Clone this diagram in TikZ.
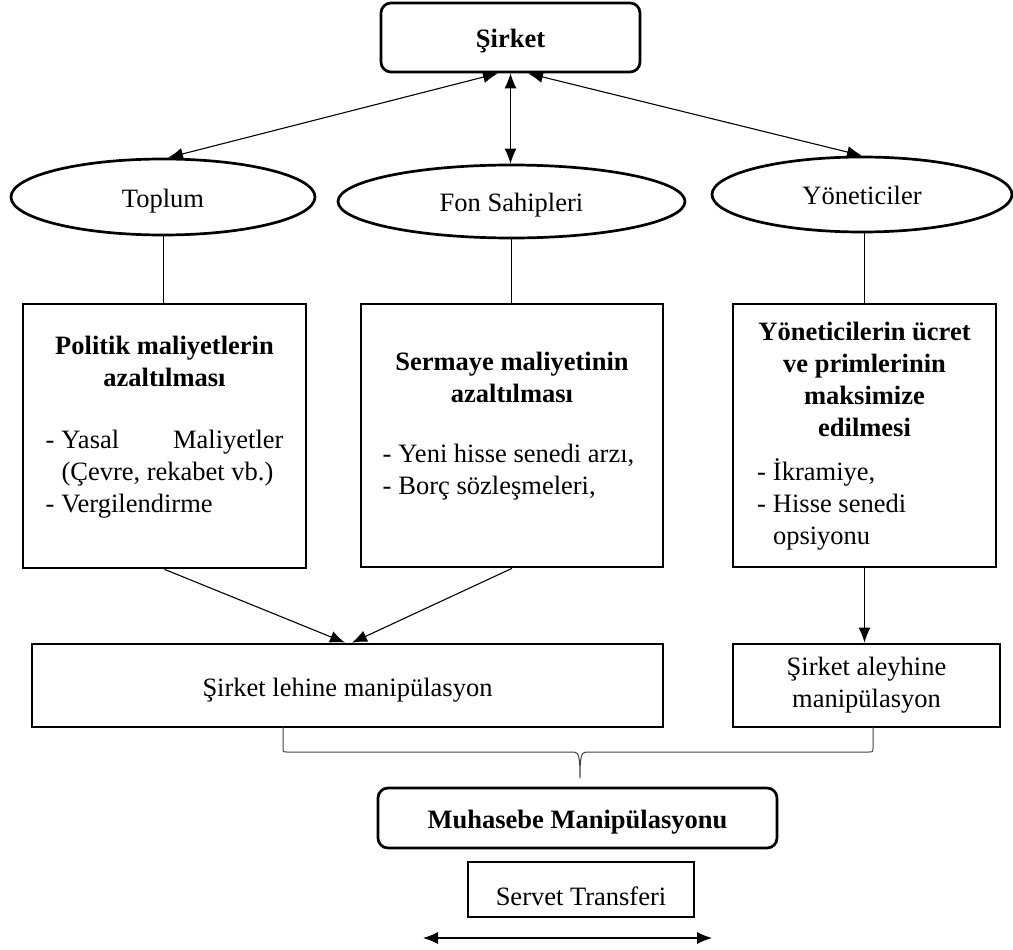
\documentclass[tikz,border=0pt]{standalone}
\usepackage{fontspec}
\setmainfont{Liberation Serif}
\usetikzlibrary{shapes.geometric,arrows.meta}

\tikzset{
    >={Latex[length=15pt,width=12pt]},
    schrift/.style={font=\fontsize{26.5}{32}\selectfont},
    tief/.style={text height=#1, text depth=0pt},
    kasten/.style={draw, rectangle, line width=2.7pt, inner sep=0pt, schrift},
    rundkasten/.style={kasten, rounded corners=10pt},
    oval/.style={draw, ellipse, line width=2.7pt, inner sep=0pt, schrift, tief=20pt},
    inhalt/.style={inner sep=0pt, align=center, anchor=north, schrift},
    pfeil/.style={line width=1.1pt},
    linie/.style={line width=0.9pt},
    klammer/.style={line width=1pt, black!75}
}

\newcommand{\madde}[2]{\makebox[#1][l]{\makebox[16pt][l]{-}#2}}
\newcommand{\devam}[2]{\makebox[#1][l]{\hspace*{16pt}#2}}

\begin{document}
\begin{tikzpicture}[x=1pt, y=-1pt]
        \useasboundingbox (0,0) rectangle (1013,950);
        % Sirket
        \node[rundkasten, tief=21pt, minimum width=259pt, minimum height=69pt] (sirket) at (510.5,37.5) {\textbf{Şirket}};
        % Gruppen
        \node[oval, minimum width=304pt, minimum height=76pt] (toplum) at (163,197) {Toplum};
        \node[oval, minimum width=347pt, minimum height=73pt] (fon) at (511.5,201.5) {Fon Sahipleri};
        \node[oval, minimum width=300pt, minimum height=75pt] (yonetici) at (862,194.5) {Yöneticiler};
        \draw[pfeil, <->] ([xshift=-12.5pt]sirket.south) -- ([xshift=5pt]toplum.north);
        \draw[pfeil, <->] (sirket.south) -- (sirket.south |- fon.north);
        \draw[pfeil, <->] ([xshift=17.5pt]sirket.south) -- (yonetici.north);
        % Ziele
        \node[kasten, minimum width=283pt, minimum height=264pt] (politik) at (164.5,436) {};
        \node[kasten, minimum width=302pt, minimum height=263pt] (sermaye) at (512,435.5) {};
        \node[kasten, minimum width=263pt, minimum height=263pt] (ucret) at (864.5,435.5) {};
        \draw[linie] (toplum.south) -- (toplum.south |- politik.north);
        \draw[linie] (fon.south) -- (fon.south |- sermaye.north);
        \draw[linie] ([xshift=2pt]yonetici.south) -- ([xshift=2pt]yonetici.south |- ucret.north);
        \node[inhalt] (politik-text) at (164.5,331.6) {\strut\textbf{Politik maliyetlerin}\\\textbf{azaltılması}\\[30pt]%
            \madde{238pt}{\makebox[222pt][s]{Yasal Maliyetler}}\\\devam{238pt}{(Çevre, rekabet vb.)}\\\madde{238pt}{Vergilendirme}};
        \node[inhalt] (sermaye-text) at (512,347.6) {\strut\textbf{Sermaye maliyetinin}\\\textbf{azaltılması}\\[28pt]%
            \madde{259pt}{Yeni hisse senedi arzı,}\\\madde{259pt}{Borç sözleşmeleri,}};
        \node[inhalt] (ucret-text) at (864.5,317.6) {\strut\textbf{Yöneticilerin ücret}\\\textbf{ve primlerinin}\\\textbf{maksimize}\\\textbf{edilmesi}\\[12pt]%
            \madde{215pt}{İkramiye,}\\\madde{215pt}{Hisse senedi}\\\devam{215pt}{opsiyonu}};
        % Manipulation
        \node[kasten, tief=22pt, minimum width=631pt, minimum height=83pt] (lehine) at (347.5,685.5) {Şirket lehine manipülasyon};
        \node[kasten, minimum width=267pt, minimum height=83pt, align=center] (aleyhine) at (866.5,685.5) {Şirket aleyhine\\manipülasyon};
        \draw[pfeil, ->] (politik.south) -- ([xshift=-2.5pt]lehine.north);
        \draw[pfeil, ->] (sermaye.south) -- ([xshift=4.5pt]lehine.north);
        \draw[pfeil, ->] (ucret.south) -- (ucret.south |- aleyhine.north);
        % Klammer
        \coordinate (klammer-links) at (283,727);
        \coordinate (klammer-rechts) at (873,727);
        \coordinate (klammer-spitze) at (580,778);
        \draw[klammer] (klammer-links) -- (283,748) .. controls (283,752) .. (287,752) -- (574,752)
            .. controls (579,752) and (580,758) .. (klammer-spitze)
            .. controls (580,758) and (581,752) .. (586,752) -- (869,752) .. controls (873,752) .. (873,748) -- (klammer-rechts);
        % Ergebnis
        \node[rundkasten, tief=20pt, minimum width=399pt, minimum height=60pt] (muhasebe) at (577.5,818) {\textbf{Muhasebe Manipülasyonu}};
        \node[kasten, tief=32pt, minimum width=226pt, minimum height=55pt] (servet) at (581,889.5) {Servet Transferi};
        \coordinate (ok-links) at (423,938);
        \coordinate (ok-rechts) at (712,938);
        \draw[pfeil, <->] (ok-links) -- (ok-rechts);
    \end{tikzpicture}
\end{document}
